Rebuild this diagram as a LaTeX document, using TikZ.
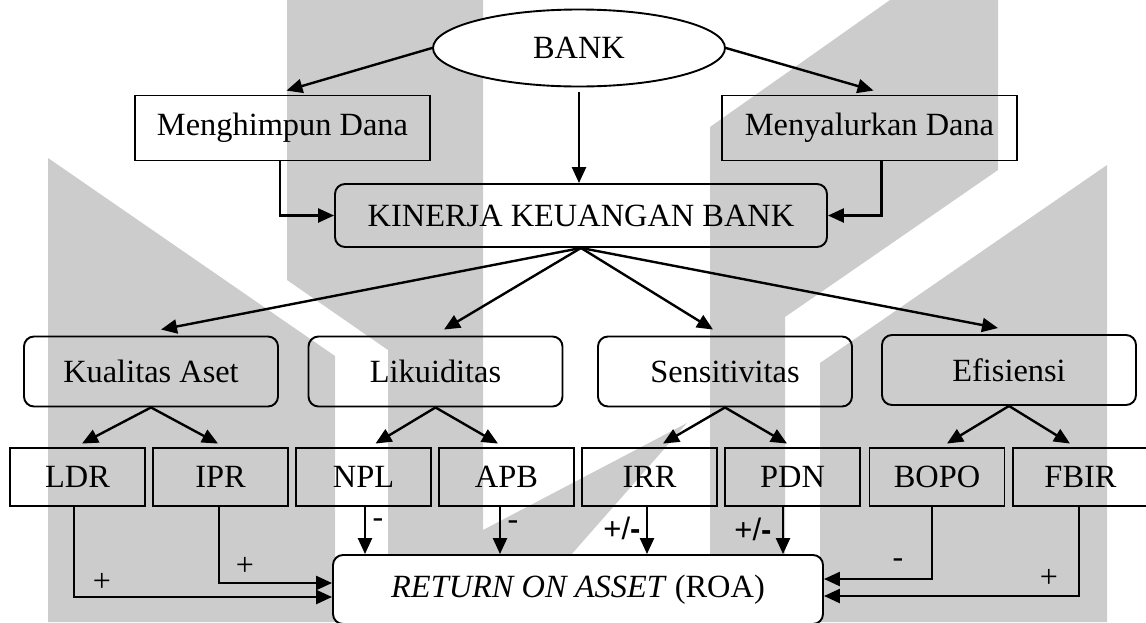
\documentclass[tikz,border=0pt]{standalone}
\usepackage{fontspec}
\setmainfont{Liberation Serif}
\newfontfamily\signfont{Liberation Sans}
\usetikzlibrary{arrows.meta}
\usetikzlibrary{shapes.geometric}
\definecolor{wmgray}{HTML}{CCCCCC}

\begin{document}
\begin{tikzpicture}[x=0.5pt, y=-0.5pt, >={Triangle[length=8pt,width=7pt]},
  every node/.style={font=\fontsize{16.2}{19}\selectfont, inner sep=0pt},
  box/.style={draw, line width=0.95pt, minimum width=147.5pt, minimum height=32.5pt},
  rbox/.style={box, rounded corners=5pt, minimum width=127pt, minimum height=35pt},
  sbox/.style={box, minimum width=67.5pt, minimum height=29pt},
  link/.style={->, line width=1.2pt},
  sign/.style={font=\fontsize{16}{18}\selectfont},
  pm/.style={font=\signfont\fontsize{15.5}{18}\selectfont}]
  \useasboundingbox (0,0) rectangle (1146,622);
  % watermark
  \fill[wmgray] (48,158) -- (335,356) -- (335,622) -- (48,622) -- cycle;
  \fill[wmgray] (287,0) -- (483,0) -- (483,622) -- (388,622) -- (388,350) -- (287,280) -- cycle;
  \fill[wmgray] (483,530) -- (687,423) -- (512,622) -- (483,622) -- cycle;
  \fill[wmgray] (710,127) -- (890,0) -- (998,0) -- (998,170) -- (785,317) -- (785,622) -- (710,622) -- cycle;
  \fill[wmgray] (1107,165) -- (1107,622) -- (820,622) -- (820,363) -- cycle;

  \node[draw, ellipse, fill=white, line width=0.95pt, minimum width=146pt, minimum height=38.5pt] (bank) at (579,48) {BANK};
  \node[box] (hmp) at (282.5,128) {Menghimpun Dana};
  \node[box] (myl) at (869.5,128) {Menyalurkan Dana};
  \node[box, rounded corners=5pt, minimum width=246pt, minimum height=31.5pt] (kin) at (581,215.5) {KINERJA KEUANGAN BANK};

  \node[rbox] (kual) at (151,371.5) {Kualitas Aset};
  \node[rbox] (likd) at (435.5,371.5) {Likuiditas};
  \node[rbox] (sens) at (725,371.5) {Sensitivitas};
  \node[rbox] (efis) at (1009,370) {Efisiensi};

  \node[sbox] (ldr) at (77.5,477) {LDR};
  \node[sbox] (ipr) at (220.5,477) {IPR};
  \node[sbox] (npl) at (363.5,477) {NPL};
  \node[sbox] (apb) at (506.5,477) {APB};
  \node[sbox] (irr) at (649.5,477) {IRR};
  \node[sbox] (pdn) at (792.5,477) {PDN};
  \node[sbox] (bopo) at (937,477) {BOPO};
  \node[sbox] (fbir) at (1080.5,477) {FBIR};

  \node[box, rounded corners=5pt, fill=white, minimum width=245pt, minimum height=34.5pt] (roa) at (578,589.5) {\textit{RETURN ON ASSET} (ROA)};

  \draw[link] (bank.west) -- ([xshift=2pt,yshift=2pt]hmp.north);
  \draw[link] (bank.east) -- ([xshift=2pt,yshift=2pt]myl.north);
  \draw[link, shorten <=2.5pt] (bank.south) -- (bank.south |- kin.north);
  \draw[link] ([xshift=-1.25pt]hmp.south) |- (kin.west);
  \draw[link] ([xshift=6pt]myl.south) |- (kin.east);

  \draw[link] (kin.south) -- ([xshift=5pt,yshift=3pt]kual.north);
  \draw[link] (kin.south) -- ([xshift=4.25pt,yshift=3pt]likd.north);
  \draw[link] (kin.south) -- ([xshift=-6pt,yshift=3pt]sens.north);
  \draw[link] (kin.south) -- ([xshift=-5.5pt,yshift=3pt]efis.north);

  \draw[link] (kual.south) -- ([xshift=2.25pt,yshift=1.75pt]ldr.north);
  \draw[link] (kual.south) -- ([xshift=-1.25pt,yshift=1.75pt]ipr.north);
  \draw[link] (likd.south) -- ([xshift=6pt,yshift=1.75pt]npl.north);
  \draw[link] (likd.south) -- ([xshift=-4.25pt,yshift=1.75pt]apb.north);
  \draw[link] (sens.south) -- ([xshift=6.75pt,yshift=1.75pt]irr.north);
  \draw[link] (sens.south) -- ([xshift=-2.75pt,yshift=1.75pt]pdn.north);
  \draw[link] (efis.south) -- ([xshift=5pt,yshift=1.75pt]bopo.north);
  \draw[link] (efis.south) -- ([xshift=-5.25pt,yshift=1.75pt]fbir.north);

  \draw[link] ([xshift=0.75pt]npl.south) -- ([xshift=0.75pt]npl.south |- roa.north);
  \draw[link] ([xshift=-3.25pt]apb.south) -- ([xshift=-3.25pt]apb.south |- roa.north);
  \draw[link] ([xshift=-1.25pt]irr.south) -- ([xshift=-1.25pt]irr.south |- roa.north);
  \draw[link] ([xshift=-4.75pt]pdn.south) -- ([xshift=-4.75pt]pdn.south |- roa.north);
  \draw[link] ([xshift=-1.75pt]ldr.south) |- ([yshift=-3.75pt]roa.west);
  \draw[link] ([xshift=-0.75pt]ipr.south) |- ([yshift=3.25pt]roa.west);
  \draw[link] ([xshift=-2.5pt]bopo.south) |- ([yshift=5.25pt]roa.east);
  \draw[link] ([xshift=-0.75pt]fbir.south) |- ([yshift=-3.25pt]roa.east);

  \node[sign] (sldr) at (102,582) {+};
  \node[sign] (sipr) at (245,566) {+};
  \node[sign] (snpl) at (378,523) {-};
  \node[sign] (sapb) at (513,525) {-};
  \node[pm] (sirr) at (622,528) {+/\textbf{-}};
  \node[pm] (spdn) at (753,529) {+/\textbf{-}};
  \node[sign] (sbopo) at (898,563) {-};
  \node[sign] (sfbir) at (1049,578) {+};
\end{tikzpicture}
\end{document}
